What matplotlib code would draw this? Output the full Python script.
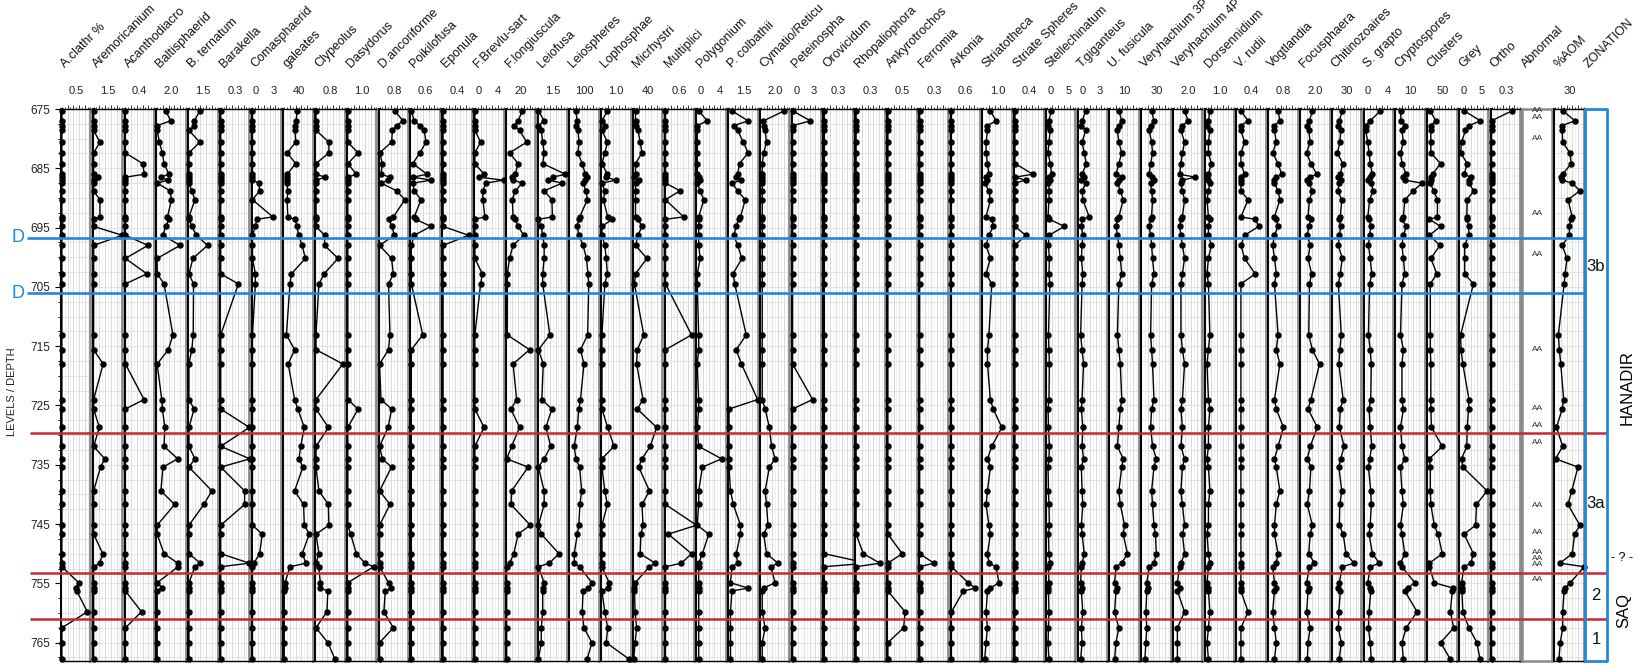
import numpy as np
import matplotlib
matplotlib.use("Agg")
import matplotlib.pyplot as plt
from matplotlib.transforms import blended_transform_factory as blend

plt.rcParams["font.family"] = ["Liberation Sans", "DejaVu Sans"]

W, H = 1649, 666
TOP, BOTTOM = 109, 661            # panel top / bottom (px from top)
LEFT0, STEP, PW = 61, 31.77, 29.5  # first panel x, panel pitch, panel width
D_TOP, D_BOT = 675.0, 768.1

depths = [675.3, 677.0, 677.8, 678.6, 680.6, 682.4, 684.2, 686.0, 686.5, 687.0,
          687.5, 688.8, 690.3, 693.2, 693.6, 694.8, 696.3, 698.0, 700.2, 702.8,
          704.5, 713.1, 715.6, 718.0, 724.0, 725.6, 728.7, 731.9, 734.0, 735.4,
          739.4, 741.7, 745.2, 746.7, 750.0, 751.6, 752.2, 754.9, 755.8, 756.3,
          759.8, 762.5, 765.0, 767.8]

a_clathr = [0, 0, 0, 0, 0, 0, 0, 0, 0, 0, 0, 0, 0, 0, 0, 0, 0, 0, 0, 0,
            0, 0, 0, 0, 0, 0, 0, 0, 0, 0, 0, 0, 0, 0, 0, 0, 0, 0.59, 0.50, 0.52,
            0.89, 0, 0, 0]
aremoricanium = [0, 0, 0, 0, 0.66, 0, 0, 0, 0.51, 0, 0, 0, 0.66, 0.66, 0, 0, 3.0, 0, 0, 0,
                 0, 0, 0, 1.0, 0, 0, 0.6, 0, 1.17, 0.72, 0, 0, 0, 0, 0.96, 0.63, 0, 0, 0, 0,
                 0, 0, 0, 0]
acanthodiacro = [0, 0, 0, 0, 0, 0, 0.48, 0.53, 0, 0, 0, 0, 0, 0, 0, 0, 0, 0.63, 0, 0.6,
                 0, 0, 0, 0, 0.52, 0, 0, 0, 0, 0, 0, 0, 0, 0, 0, 0, 0, 0, 0, 0,
                 0.45, 0, 0, 0]
baltisphaerid = [1.2, 1.88, 0, 0, 0.32, 0.72, 0.96, 1.64, 0.52, 1.48, 0, 1.8, 2.0, 1.44, 1.64, 1.2, 0.8, 3.2, 0, 0,
                 0.96, 2.2, 1.56, 0, 0.64, 0.72, 1.08, 0.96, 2.88, 0.8, 0.52, 2.44, 0, 0, 0.96, 2.88, 2.92, 0, 0.72, 0,
                 0, 0, 0, 0]
b_ternatum = [1.14, 0.57, 0.57, 0, 1.14, 0, 0, 0, 0, 0, 0, 0.3, 0.63, 0, 0, 0.3, 0.78, 1.95, 0.42, 0,
              0.48, 0.45, 0.3, 0, 0, 0.54, 0, 0, 0.63, 0, 2.4, 1.56, 0, 0, 0, 1.2, 0.63, 0, 0, 0,
              0, 0, 0, 0]
barakella = [0, 0, 0, 0, 0, 0, 0, 0, 0, 0, 0, 0, 0, 0, 0, 0, 0, 0, 0, 0,
             0.37, 0, 0, 0, 0, 0, 0.6, 0, 0.61, 0, 0.5, 0.5, 0, 0, 0, 0.6, 0, 0, 0, 0,
             0, 0, 0, 0]
comasphaerid = [0, 0, 0, 0, 0, 0, 0, 0, 0, 0, 0.92, 1.0, 0, 2.84, 0.6, 0.4, 0, 0, 0, 0.4,
                0.4, 0, 0, 0, 0, 0, 0, 0, 0, 0, 0, 0, 0, 1.36, 1.0, 0.2, 0, 0, 0, 0,
                0, 0, 0, 0]
galeates = [36, 33, 30, 30, 32, 8, 32, 8, 8, 7, 7, 10, 8, 10, 30, 36, 40, 50, 59, 20,
            16, 6, 29, 11, 29, 38, 56, 46, 41, 52, 29, 54, 56, 70, 50, 61, 16, 2, 2, 0,
            0, 0, 0, 0]
clypeolus = [0, 0, 0, 0, 0.72, 0.72, 0, 0, 0.51, 0, 0, 0, 0, 0, 0, 0, 0.48, 0.48, 1.23, 0.45,
             0.16, 0, 0, 1.5, 0, 0, 0.69, 0, 0, 0, 0.16, 0.69, 0.72, 0, 0.16, 0, 0.16, 0.24, 0.24, 0.66,
             0.61, 0, 0.66, 1.06]
dasydorus = [0, 0, 0, 0, 0, 0.72, 0, 0.6, 0, 0, 0, 0, 0, 0, 0, 0, 0, 0, 0, 0,
             0, 0, 0, 0, 0, 0.72, 0, 0, 0, 0, 0, 0, 0, 0.2, 0.6, 1.2, 1.8, 0, 0, 0,
             0, 0, 0, 0]
d_ancoriforme = [0.85, 1.31, 0.96, 0.72, 0.67, 0, 0.16, 0.08, 0.58, 0.48, 0.08, 0.96, 1.41, 0.77, 0.5, 0.7, 0.82, 0, 0.67, 0.77,
                 0.5, 0.58, 0.5, 0, 0.08, 0.67, 0.48, 0, 0.16, 0.67, 0, 0.58, 0, 0, 0, 0, 0, 0.5, 0.64, 0.32,
                 0.24, 0.77, 0, 0]
poikilofusa = [0, 0.12, 0.36, 0.54, 0.61, 0.36, 0.06, 0.66, 0.06, 0.84, 0.06, 0.12, 0.41, 0.12, 0.18, 0.82, 0.12, 0, 0, 0,
               0, 0.48, 0, 0, 0, 0, 0, 0, 0, 0, 0, 0, 0, 0, 0, 0, 0, 0, 0, 0,
               0, 0, 0, 0]
eponula = [0, 0, 0, 0, 0, 0, 0, 0, 0, 0, 0, 0, 0, 0, 0, 0, 0.71, 0, 0, 0,
           0, 0, 0, 0, 0, 0, 0, 0, 0, 0, 0, 0, 0, 0, 0, 0, 0, 0, 0, 0,
           0, 0, 0, 0]
f_brevlu = [0, 0, 0, 0, 1.0, 0, 0, 1.6, 0.75, 5.0, 1.9, 1.4, 1.4, 1.75, 0, 0, 0, 0, 0, 1.3,
            1.0, 0, 0, 0, 0, 0, 1.6, 0, 0, 0, 0, 0, 0, 0, 0, 0, 0, 0, 0, 0,
            0, 0, 0, 0]
f_longiuscula = [22, 16, 10, 18, 28, 4, 16, 12, 7, 9, 22, 12, 8, 9, 12, 16, 24, 9, 4, 1,
                 1, 1, 32, 9, 14, 6, 18, 7, 0, 30, 7, 6, 33, 16, 10, 4, 0, 0, 0, 0,
                 0, 0, 0, 0]
leiofusa = [0, 0.6, 0, 0.3, 0.45, 0.6, 0.45, 2.82, 1.5, 1.05, 2.49, 0.6, 1.41, 1.47, 0, 0.3, 0.45, 0.6, 0.6, 0.45,
            0.45, 1.2, 0, 0.51, 0.36, 1.41, 0.78, 1.29, 0.6, 0, 0.6, 0.6, 0, 0.3, 2.16, 1.14, 0, 0.6, 0.45, 0.45,
            0.45, 0.3, 0.3, 0]
leiospheres = [38, 50, 40, 54, 62, 54, 84, 106, 118, 106, 90, 110, 120, 66, 60, 50, 60, 90, 114, 124,
               130, 122, 72, 96, 72, 60, 50, 28, 40, 66, 80, 68, 60, 50, 28, 30, 66, 152, 126, 90,
               84, 96, 152, 118]
lophosphae = [0.38, 0, 0.2, 0, 0.38, 0.2, 0, 0.38, 0.3, 0.96, 0, 0.2, 0.1, 0.4, 0.72, 0, 0, 0.2, 0.3, 0.38,
              0.2, 0, 0, 0, 0, 0, 0.4, 0.84, 0, 0, 0.2, 0.38, 0, 0, 0, 0, 0, 0.5, 0.4, 0,
              0.2, 0.4, 0.3, 1.9]
micrhystri = [5, 5, 5, 12, 18, 23, 5, 5, 2, 14, 5, 5, 5, 5, 12, 23, 12, 5, 37, 5,
              2, 28, 10, 8, 26, 10, 64, 46, 23, 14, 44, 23, 26, 20, 18, 60, 44, 4, 2, 2,
              4, 8, 4, 0]
multiplici = [0, 0, 0, 0, 0, 0, 0, 0, 0, 0, 0, 0.61, 0, 0.76, 0, 0, 0, 0, 0, 0,
              0, 1.09, 0, 0, 0, 0, 0, 0, 0, 0, 0, 0, 1.3, 0.12, 1.09, 0.67, 0, 0, 0, 0,
              0, 0, 0, 0]
polygonium = [0.25, 1.75, 0, 0, 0, 0, 0, 0, 0.25, 0.5, 0, 0.5, 1.15, 0.25, 0.25, 0.25, 0.25, 0.25, 0.5, 0,
              0, 0.25, 0.25, 0, 0.25, 0.25, 0, 0.25, 4.25, 0.9, 0.25, 0.25, 0, 2.0, 0.9, 0.25, 0.25, 0.25, 0.25, 0.25,
              0.25, 0.25, 0.25, 0.25]
p_colbathii = [0.3, 2.0, 0.5, 0.9, 1.5, 2.0, 1.1, 0.9, 0.75, 1.3, 0.33, 0.9, 1.7, 1.2, 1.0, 0.75, 0.5, 0.9, 1.35, 0.42,
               0.6, 1.8, 0.75, 1.3, 3.0, 0, 0, 0, 0, 0, 0.15, 0.45, 1.2, 1.2, 0.75, 0.9, 0.3, 0.15, 2.0, 0.3,
               0.15, 0.15, 0.15, 0.15]
cymatio = [3.3, 0.36, 0.4, 0.6, 0.8, 0.4, 0.2, 0.2, 0.2, 0.2, 0.2, 0.2, 0.2, 0.2, 0.2, 0.2, 0.2, 0.2, 0.2, 0.2,
           0.2, 0.2, 0.2, 0.2, 0.2, 0.6, 1.2, 1.5, 2.0, 1.2, 0.6, 0.8, 1.0, 0.4, 0.8, 2.4, 1.4, 2.0, 0.4, 0.2,
           0.2, 0.6, 0.2, 0.2]
peteinospha = [0, 2.5, 0, 0, 0, 0, 0, 0, 0, 0, 0, 0, 0, 0, 0, 0, 0, 0, 0, 0,
               0, 0, 0, 0, 2.8, 0, 0, 0, 0, 0, 0, 0, 0, 0, 0, 0, 0, 0, 0, 0,
               0, 0, 0, 0]
orovicidum = [0, 0, 0, 0, 0, 0, 0, 0, 0, 0, 0, 0, 0, 0, 0, 0, 0, 0, 0, 0,
              0, 0, 0, 0, 0, 0, 0, 0, 0, 0, 0, 0, 0, 0, 0, 0.9, 0, 0, 0, 0,
              0, 0, 0, 0]
rhopaliophora = [0, 0, 0, 0, 0, 0, 0, 0, 0, 0, 0, 0, 0, 0, 0, 0, 0, 0, 0, 0,
                 0, 0, 0, 0, 0, 0, 0, 0, 0, 0, 0, 0, 0, 0, 0.15, 0.5, 0, 0, 0, 0,
                 0, 0, 0, 0]
ankyrotrochos = [0, 0, 0, 0, 0, 0, 0, 0, 0, 0, 0, 0, 0, 0, 0, 0, 0, 0, 0, 0,
                 0, 0, 0, 0, 0, 0, 0, 0, 0, 0, 0, 0, 0, 0, 0.5, 0, 0, 0, 0, 0,
                 0.6, 0.55, 0, 0]
ferromia = [0, 0, 0, 0, 0, 0, 0, 0, 0, 0, 0, 0, 0, 0, 0, 0, 0, 0, 0, 0,
            0, 0, 0, 0, 0, 0, 0, 0, 0, 0, 0, 0, 0, 0, 0, 0.3, 0, 0, 0, 0,
            0, 0, 0, 0]
arkonia = [0, 0, 0, 0, 0, 0, 0, 0, 0, 0, 0, 0, 0, 0, 0, 0, 0, 0, 0, 0,
           0, 0, 0, 0, 0, 0, 0, 0, 0, 0, 0, 0, 0, 0, 0, 0, 0, 0.7, 1.0, 0.5,
           0, 0, 0, 0]
striatotheca = [0.5, 0.9, 0.3, 0.3, 0.2, 0.2, 0.3, 0.4, 0.2, 0.3, 0.1, 0.4, 0.5, 0.2, 0.6, 0.7, 0.4, 0.2, 0.5, 0.2,
                0.6, 0.4, 0.3, 0.3, 0.5, 0.7, 1.3, 0.6, 0.3, 0.5, 0.3, 0.2, 0.4, 0.5, 0.3, 0.4, 0.9, 1.1, 0.5, 0.3,
                0.2, 0.3, 0.2, 0.1]
striate_spheres = [0, 0, 0, 0, 0, 0, 0, 0.5, 0, 0.3, 0, 0, 0, 0, 0, 0, 0.3, 0, 0, 0,
                   0, 0, 0, 0, 0, 0, 0, 0, 0, 0, 0, 0, 0, 0, 0, 0, 0, 0, 0, 0,
                   0, 0, 0, 0]
stellechinatum = [1.0, 0.5, 0.4, 0.8, 0.5, 0.3, 0.8, 1.1, 0.5, 0.7, 0.4, 0.6, 0.5, 0.3, 0.6, 4.0, 0.5, 0.4, 0.6, 0.5,
                  0.7, 0.4, 0.5, 0.6, 0.5, 0.3, 0.4, 0.6, 0.5, 0.3, 0.4, 0.5, 0.6, 0.4, 0.5, 0.7, 0.4, 0.5, 0.3, 0.4,
                  0.5, 0.4, 0.3, 0.5]
t_giganteus = [1.0, 0.5, 0.4, 1.0, 0.5, 0.8, 1.1, 0.5, 0.8, 0.4, 1.0, 0.5, 0.6, 1.5, 0.5, 0.4, 0.6, 0.5, 0.4, 0.6,
               0.5, 0.3, 0.5, 0.7, 0.5, 0.4, 0.6, 0.5, 0.7, 0.4, 0.5, 0.6, 0.4, 0.5, 0.8, 0.5, 0.4, 0.3, 0.5, 0.4,
               0.6, 0.4, 0.5, 0.3]
u_fusicula = [6, 8, 6, 5, 6, 8, 6, 4, 8, 6, 5, 7, 9, 6, 5, 4, 5, 6, 7, 8,
              6, 5, 6, 7, 8, 7, 6, 5, 9, 8, 6, 7, 10, 9, 12, 8, 4, 3, 5, 4,
              3, 6, 4, 3]
veryhachium_3p = [20, 25, 18, 15, 20, 22, 18, 15, 20, 25, 18, 20, 22, 20, 18, 15, 18, 20, 22, 25,
                  20, 18, 20, 22, 25, 20, 18, 22, 30, 25, 20, 22, 25, 28, 30, 25, 15, 10, 12, 10,
                  8, 10, 8, 6]
veryhachium_4p = [1.5, 2.0, 1.2, 1.0, 1.5, 1.2, 1.0, 0.8, 3.0, 1.2, 1.0, 1.2, 1.5, 1.2, 1.0, 0.8, 1.0, 1.2, 1.5, 1.2,
                  1.0, 1.0, 1.2, 1.5, 1.2, 1.0, 1.2, 1.0, 1.5, 1.2, 1.0, 1.2, 1.5, 1.2, 1.5, 1.0, 0.8, 0.5, 0.8, 0.5,
                  1.5, 0.5, 0.5, 0.5]
dorsennidium = [0.3, 0.2, 0.1, 0.3, 0.2, 0.2, 0.4, 0.2, 0.1, 0.2, 0.3, 0.2, 0.1, 0.2, 0.3, 0.2, 0.2, 0.4, 0.2, 0.1,
                0.2, 0.3, 0.2, 0.1, 0.2, 0.3, 0.2, 0.2, 0.1, 0.2, 0.3, 0.2, 0.2, 0.1, 0.2, 0.3, 0.2, 0.1, 0.2, 0.2,
                0.3, 0.2, 0.1, 0.2]
v_rudii = [0.1, 0.3, 0.1, 0.1, 0.2, 0.1, 0.1, 0.2, 0.1, 0.1, 0.1, 0.1, 0.3, 0.1, 0.5, 0.6, 0.2, 0.1, 0.2, 0.5,
           0.1, 0.1, 0.1, 0.1, 0.1, 0.1, 0.1, 0.1, 0.1, 0.1, 0.1, 0.1, 0.1, 0.1, 0.1, 0.1, 0.1, 0.1, 0.1, 0.1,
           0.3, 0.1, 0.1, 0.1]
vogtlandia = [0.5, 0.6, 0.3, 0.3, 0.4, 0.2, 0.5, 0.7, 0.4, 0.3, 0.3, 0.5, 0.6, 0.3, 0.4, 0.5, 0.3, 0.2, 0.3, 0.4,
              0.3, 0.5, 0.4, 0.6, 0.3, 0.4, 0.8, 0.5, 0.3, 0.4, 0.6, 0.4, 0.3, 0.3, 0.5, 0.4, 0.2, 0.3, 0.4, 0.3,
              0.2, 0.3, 0.4, 0.3]
focusphaera = [1.6, 1.2, 0.9, 1.1, 1.3, 0.8, 1.4, 2.2, 1.3, 0.9, 1.1, 1.6, 1.2, 1.0, 1.4, 1.1, 0.9, 1.3, 1.0, 1.5,
               1.2, 1.1, 1.6, 2.6, 1.4, 1.0, 2.3, 1.3, 0.9, 1.4, 1.2, 0.9, 1.6, 1.3, 1.1, 1.9, 1.2, 0.8, 1.1, 1.0,
               0.8, 1.3, 1.0, 0.9]
chitinozoaires = [20, 14, 11, 17, 15, 10, 21, 16, 12, 18, 14, 11, 19, 16, 13, 17, 14, 12, 20, 16,
                  12, 18, 15, 13, 22, 16, 14, 24, 17, 13, 19, 15, 14, 22, 28, 45, 20, 14, 11, 16,
                  13, 12, 18, 14]
s_grapto = [2.8, 1.0, 0.2, 0.2, 0.6, 0.8, 1.0, 1.4, 0.9, 0.7, 1.2, 1.5, 0.9, 0.6, 0.8, 1.1, 0.9, 0.7, 1.0, 1.3,
            0.9, 0.7, 1.0, 1.2, 1.1, 0.8, 1.0, 1.3, 0.9, 0.7, 1.1, 1.2, 1.0, 0.8, 1.4, 2.6, 1.0, 0.6, 0.9, 1.1,
            0.8, 0.7, 1.0, 1.2]
cryptospores = [3.2, 3.2, 6.4, 4, 5, 3, 4, 7, 5, 6, 18, 12, 6, 5, 4, 7, 5, 4, 5, 6,
                4, 3, 5, 4, 4, 5, 3, 4, 6, 3, 4, 5, 3, 4, 6, 3, 4, 13, 8, 6,
                14.6, 7, 4, 5]
clusters = [8, 27, 10, 10, 10, 10, 44, 16, 10, 10, 8, 20, 33, 33, 5, 44, 5, 42, 10, 31,
            8, 8, 8, 10, 10, 10, 12, 50, 5, 8, 8, 10, 22, 35, 50, 5, 5, 22, 88, 85,
            78, 90, 44, 78]
grey = [1.0, 4.7, 2.1, 1.3, 0.4, 0.2, 1.7, 1.0, 2.5, 2.1, 2.0, 3.2, 1.7, 1.6, 1.7, 2.0, 2.1, 1.1, 1.1, 1.1,
        3.1, 0.2, 0.3, 0.7, 2.1, 2.0, 1.7, 1.6, 0.4, 0.7, 6.2, 3.8, 3.6, 1.0, 3.1, 2.5, 1.0, 0.4, 0.5, 0.5,
        0.7, 2.1, 3.9, 4.6]
ortho = [0.43, 0, 0, 0, 0, 0, 0, 0, 0, 0, 0, 0, 0, 0, 0, 0, 0, 0, 0, 0,
         0, 0, 0, 0, 0, 0, 0, 0, 0, 0, 0, 0, 0, 0, 0, 0, 0, 0, 0, 0,
         0, 0, 0, 0]
aom = [16, 42, 14, 15, 16, 31, 34, 16, 13, 15, 36, 52, 27, 36, 33, 30, 30, 15, 25, 21,
       19, 7, 9, 12, 18, 15, 3, 16, 1, 48, 35, 27, 52, 41, 36, 10, 61, 32, 21, 19,
       16, 16, 11, 8]

abnormal_levels = [675.2, 676.5, 680.0, 692.7, 699.5, 715.5, 725.5, 728.4, 731.3,
                   741.9, 746.5, 749.8, 750.85, 751.9, 754.4]

blue_levels = [696.7, 706.1]
red_levels = [729.7, 753.3, 761.1]
zones = [("3b", 701.5), ("3a", 741.6), ("2", 757.1), ("1", 764.4)]

# (name, values, axis maximum, scale labels)
columns = [
    ("A.clathr %", a_clathr, 1.0, ["0.5"]),
    ("Aremoricanium", aremoricanium, 3.0, ["1.5"]),
    ("Acanthodiacro", acanthodiacro, 0.8, ["0.4"]),
    ("Baltisphaerid", baltisphaerid, 4.0, ["2.0"]),
    ("B. ternatum", b_ternatum, 3.0, ["1.5"]),
    ("Barakella", barakella, 0.6, ["0.3"]),
    ("Comasphaerid", comasphaerid, 4.0, ["0", "3"]),
    ("galeates", galeates, 80, ["40"]),
    ("Clypeolus", clypeolus, 1.6, ["0.8"]),
    ("Dasydorus", dasydorus, 2.0, ["1.0"]),
    ("D.ancoriforme", d_ancoriforme, 1.6, ["0.8"]),
    ("Poikilofusa", poikilofusa, 1.2, ["0.6"]),
    ("Eponula", eponula, 0.8, ["0.4"]),
    ("F.Brevlu-sart", f_brevlu, 5.0, ["0", "4"]),
    ("F.longiuscula", f_longiuscula, 40, ["20"]),
    ("Leiofusa", leiofusa, 3.0, ["1.5"]),
    ("Leiospheres", leiospheres, 200, ["100"]),
    ("Lophosphae", lophosphae, 2.0, ["1.0"]),
    ("Micrhystri", micrhystri, 80, ["40"]),
    ("Multiplici", multiplici, 1.2, ["0.6"]),
    ("Polygonium", polygonium, 5.0, ["0", "4"]),
    ("P. colbathii", p_colbathii, 3.0, ["1.5"]),
    ("Cymatio/Reticu", cymatio, 4.0, ["2.0"]),
    ("Peteinospha", peteinospha, 4.0, ["0", "3"]),
    ("Orovicidum", orovicidum, 0.6, ["0.3"]),
    ("Rhopaliophora", rhopaliophora, 0.6, ["0.3"]),
    ("Ankyrotrochos", ankyrotrochos, 1.0, ["0.5"]),
    ("Ferromia", ferromia, 0.6, ["0.3"]),
    ("Arkonia", arkonia, 1.2, ["0.6"]),
    ("Striatotheca", striatotheca, 2.0, ["1.0"]),
    ("Striate Spheres", striate_spheres, 0.8, ["0.4"]),
    ("Stellechinatum", stellechinatum, 6.5, ["0", "5"]),
    ("T.giganteus", t_giganteus, 4.0, ["0", "3"]),
    ("U. fusicula", u_fusicula, 20, ["10"]),
    ("Veryhachium 3P", veryhachium_3p, 60, ["30"]),
    ("Veryhachium 4P", veryhachium_4p, 4.0, ["2.0"]),
    ("Dorsennidium", dorsennidium, 2.0, ["1.0"]),
    ("V. rudii", v_rudii, 0.8, ["0.4"]),
    ("Vogtlandia", vogtlandia, 1.6, ["0.8"]),
    ("Focusphaera", focusphaera, 4.0, ["2.0"]),
    ("Chitinozoaires", chitinozoaires, 60, ["30"]),
    ("S. grapto", s_grapto, 5.0, ["0", "4"]),
    ("Cryptospores", cryptospores, 20, ["10"]),
    ("Clusters", clusters, 100, ["50"]),
    ("Grey", grey, 6.5, ["0", "5"]),
    ("Ortho", ortho, 0.6, ["0.3"]),
]

BLUE = "#1e88e0"
RED = "#c62a2f"

fig = plt.figure(figsize=(W / 100, H / 100), dpi=100)


def panel_rect(i):
    x0 = LEFT0 + STEP * i
    return x0, [x0 / W, 1 - BOTTOM / H, PW / W, (BOTTOM - TOP) / H]


def style_panel(ax, vmax):
    ax.set_xlim(-0.03 * vmax, vmax)
    ax.set_ylim(D_BOT, D_TOP)
    ax.set_xticks(np.linspace(0, vmax, 6)[1:-1])
    ax.set_xticks(np.linspace(0, vmax, 11), minor=True)
    ax.set_yticks(np.arange(677.5, 768, 2.5), minor=True)
    ax.grid(axis="x", which="major", color="#d2d2d2", lw=0.6)
    ax.grid(axis="x", which="minor", color="#ebebeb", lw=0.5)
    ax.grid(axis="y", which="minor", color="#dedede", lw=0.6)
    ax.xaxis.tick_top()
    ax.tick_params(axis="x", which="both", direction="out", labeltop=False,
                   labelbottom=False, width=0.7, color="#333333")
    ax.tick_params(axis="x", which="major", length=3)
    ax.tick_params(axis="x", which="minor", length=1.8)
    ax.tick_params(axis="y", which="both", left=False, labelleft=False)
    for side in ("left", "top", "bottom"):
        ax.spines[side].set_color("black")
        ax.spines[side].set_linewidth(1.0)
    ax.spines["left"].set_linewidth(1.4)
    ax.spines["right"].set_color("#8a8a8a")
    ax.spines["right"].set_linewidth(2.0)
    ax.set_axisbelow(True)


def add_name(x0, name):
    fig.text((x0 + 4) / W, 1 - 68 / H, name, rotation=45, ha="left",
             va="baseline", rotation_mode="anchor", fontsize=9, color="#111111")


def add_scale(ax, x0, labels):
    tr = blend(ax.transData, fig.transFigure)
    for lab in labels:
        if lab == "0":
            fig.text((x0 + 1.5) / W, 1 - 91 / H, lab, ha="left", va="center",
                     fontsize=8, color="#222222")
        else:
            ax.text(float(lab), 1 - 91 / H, lab, transform=tr, ha="center",
                    va="center", fontsize=8, color="#222222")


axes = []
for i, (name, vals, vmax, labels) in enumerate(columns):
    x0, rect = panel_rect(i)
    ax = fig.add_axes(rect)
    style_panel(ax, vmax)
    ax.plot(vals, depths, "-o", color="black", lw=1.0, ms=3.6, clip_on=False, zorder=5)
    add_name(x0, name)
    add_scale(ax, x0, labels)
    axes.append(ax)

ax0 = axes[0]
ax0.set_yticks(np.arange(675, 766, 10))
ax0.tick_params(axis="y", which="major", left=True, labelleft=True, length=4,
                width=0.8, labelsize=8.5, labelcolor="#222222")
ax0.tick_params(axis="y", which="minor", left=True, length=2.5, width=0.7)
fig.text(12 / W, 1 - 392 / H, "LEVELS / DEPTH", rotation=90, ha="center",
         va="center", fontsize=8, color="#222222")

# abnormal specimens column
x0, rect = panel_rect(len(columns))
ax_ab = fig.add_axes(rect)
ax_ab.set_xlim(0, 1)
ax_ab.set_ylim(D_BOT, D_TOP)
ax_ab.set_xticks([])
ax_ab.set_yticks([])
for sp in ax_ab.spines.values():
    sp.set_color("#8a8a8a")
    sp.set_linewidth(1.8)
for lv in abnormal_levels:
    ax_ab.text(0.5, lv, "AA", ha="center", va="center", fontsize=6, color="#333333")
add_name(x0, "Abnormal")

# %AOM column
x0, rect = panel_rect(len(columns) + 1)
ax_aom = fig.add_axes(rect)
style_panel(ax_aom, 60)
ax_aom.plot(aom, depths, "-o", color="black", lw=1.0, ms=3.6, clip_on=False, zorder=5)
add_name(x0, "%AOM")
add_scale(ax_aom, x0, ["30"])

add_name(1585, "ZONATION")

# overlay in pixel x / depth y for zone boundaries and labels
ov = fig.add_axes([0, 0, 1, 1], zorder=20)
ov.set_xlim(0, W)
ov.patch.set_alpha(0)
ov.axis("off")
tr = blend(ov.transData, ax0.transData)

for lv in blue_levels:
    ov.plot([27, 1585], [lv, lv], color=BLUE, lw=1.9, transform=tr, solid_capstyle="butt")
    ov.text(18, lv, "D", color=BLUE, fontsize=13, ha="center", va="center", transform=tr)
for lv in red_levels:
    ov.plot([30, 1607], [lv, lv], color=RED, lw=1.8, transform=tr, solid_capstyle="butt")
ov.plot([1585, 1607, 1607, 1585, 1585], [D_TOP, D_TOP, D_BOT, D_BOT, D_TOP],
        color=BLUE, lw=2.0, transform=tr)
for label, lv in zones:
    ov.text(1596, lv, label, fontsize=12, ha="center", va="center", transform=tr, color="#111111")
ov.text(1622, 750.8, "- ? -", fontsize=9, ha="center", va="center", transform=tr)
ov.text(1627, 722.0, "HANADIR", fontsize=12, rotation=90, ha="center", va="center", transform=tr)
ov.text(1624, 759.5, "SAQ", fontsize=12, rotation=90, ha="center", va="center", transform=tr)

fig.savefig("out.png", dpi=100)
